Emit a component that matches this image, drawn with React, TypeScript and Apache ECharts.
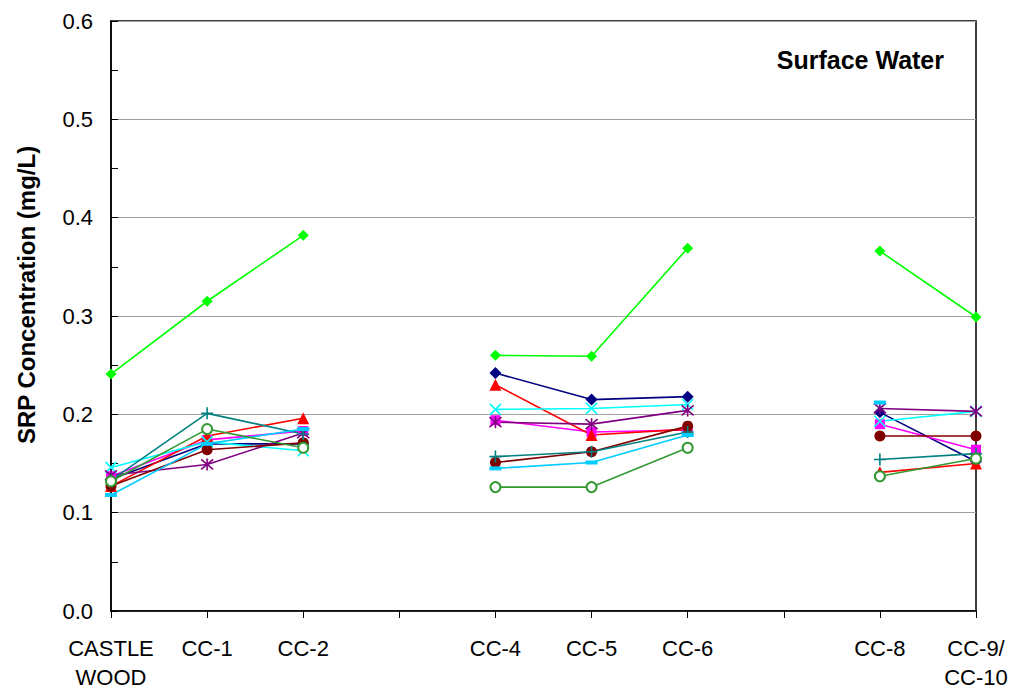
import React, { useEffect, useRef } from "react";
import * as echarts from "echarts";

const categories = ["CASTLE\nWOOD", "CC-1", "CC-2", "", "CC-4", "CC-5", "CC-6", "", "CC-8", "CC-9/\nCC-10"];

const navy = [0.134, 0.170, 0.170, null, 0.242, 0.215, 0.218, null, 0.202, 0.152];
const magenta = [0.137, 0.174, 0.183, null, 0.194, 0.182, 0.184, null, 0.190, 0.164];
const red = [0.127, 0.178, 0.196, null, 0.230, 0.179, 0.185, null, 0.141, 0.150];
const cyan = [0.146, 0.172, 0.163, null, 0.205, 0.206, 0.210, null, 0.193, 0.203];
const purple = [0.138, 0.149, 0.181, null, 0.192, 0.190, 0.204, null, 0.206, 0.203];
const maroon = [0.127, 0.164, 0.171, null, 0.151, 0.162, 0.188, null, 0.178, 0.178];
const teal = [0.133, 0.201, 0.180, null, 0.157, 0.162, 0.182, null, 0.154, 0.160];
const skyblue = [0.118, 0.170, 0.185, null, 0.145, 0.151, 0.179, null, 0.212, null];
const green = [0.132, 0.185, 0.166, null, 0.126, 0.126, 0.166, null, 0.137, 0.155];
const lime = [0.241, 0.315, 0.382, null, 0.260, 0.259, 0.369, null, 0.366, 0.299];

const yTicks = [0, 0.1, 0.2, 0.3, 0.4, 0.5, 0.6];
const yTitle = "SRP Concentration (mg/L)";
const chartTitle = "Surface Water";

const X_PATH = "path://M0,0L10,10M10,0L0,10";
const STAR_PATH = "path://M0,0L10,10M10,0L0,10M5,-1L5,11";
const PLUS_PATH = "path://M5,0L5,10M0,5L10,5";

export default function App() {
  const ref = useRef<HTMLDivElement>(null);
  useEffect(() => {
    document.body.style.margin = "0";
    const chart = echarts.init(ref.current!, null, { renderer: "svg" });
    const mk = (name: string, data: any[], color: string, symbol: string, size: any, stroke = false, extra: any = {}) => ({
      name,
      type: "line",
      data,
      connectNulls: false,
      symbol,
      symbolSize: size,
      showAllSymbol: true,
      lineStyle: { color, width: 1.6 },
      itemStyle: stroke
        ? { color, borderColor: color, borderWidth: 1.6 }
        : { color, borderWidth: 0 },
      ...extra,
    });
    chart.setOption({
      animation: false,
      title: {
        text: chartTitle,
        right: 69,
        top: 42,
        textStyle: { fontFamily: "Liberation Sans, Arial", fontWeight: "bold", fontSize: 25, color: "#000" },
      },
      graphic: [
        {
          type: "text",
          x: 26,
          y: 295,
          rotation: Math.PI / 2,
          style: {
            text: yTitle,
            align: "center",
            verticalAlign: "middle",
            font: "bold 24px 'Liberation Sans', Arial",
            fill: "#000",
          },
        },
      ],
      grid: { left: 111, right: 42, top: 21, bottom: 81, show: true, borderColor: "#000", borderWidth: 1.5 },
      xAxis: {
        type: "category",
        data: categories,
        boundaryGap: false,
        axisLine: { lineStyle: { color: "#000", width: 1.5 } },
        axisTick: { show: true, length: 7, interval: 0, lineStyle: { color: "#000", width: 1 } },
        axisLabel: {
          interval: 0,
          margin: 23,
          fontFamily: "Liberation Sans, Arial",
          fontSize: 22,
          lineHeight: 29,
          color: "#000",
        },
        splitLine: { show: false },
      },
      yAxis: {
        type: "value",
        min: 0,
        max: 0.6,
        interval: 0.1,
        axisLine: { show: true, lineStyle: { color: "#000", width: 1.5 } },
        axisTick: { show: true, inside: true, length: 7, lineStyle: { color: "#000" } },
        minorTick: { show: true, splitNumber: 2, length: 7, lineStyle: { color: "#000" } },
        axisLabel: {
          margin: 18,
          fontFamily: "Liberation Sans, Arial",
          fontSize: 22,
          color: "#000",
          formatter: (v: number) => (yTicks.some((t) => Math.abs(t - v) < 1e-9) ? v.toFixed(1) : ""),
        },
        splitLine: { show: true, lineStyle: { color: "#a0a0a0", width: 1 } },
      },
      series: [
        mk("navy", navy, "#000080", "diamond", 12),
        mk("magenta", magenta, "#FF00FF", "rect", 10),
        mk("red", red, "#FF0000", "triangle", 12),
        mk("cyan", cyan, "#00FFFF", X_PATH, 11, true),
        mk("purple", purple, "#800080", STAR_PATH, 12, true),
        mk("maroon", maroon, "#800000", "circle", 11),
        mk("teal", teal, "#008080", PLUS_PATH, 12, true),
        mk("skyblue", skyblue, "#00CCFF", "rect", [12, 4]),
        mk("green", green, "#339933", "emptyCircle", 10, false, {
          itemStyle: { color: "#339933", borderColor: "#339933", borderWidth: 1.6 },
        }),
        mk("lime", lime, "#00FF00", "diamond", 11),
      ],
    });
    return () => chart.dispose();
  }, []);
  return <div ref={ref} style={{ width: 1018, height: 692 }} />;
}
